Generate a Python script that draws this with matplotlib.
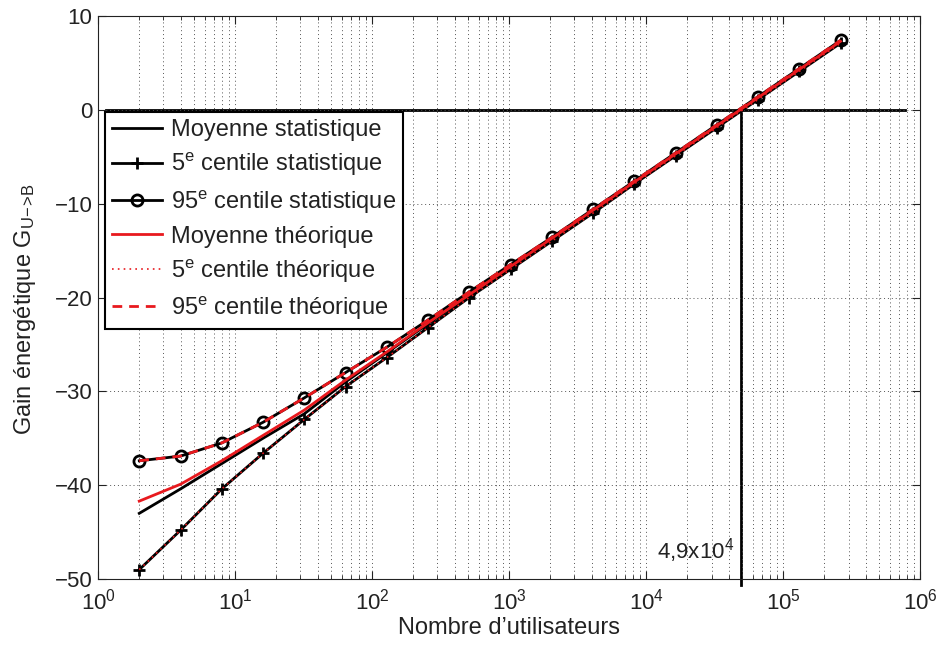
import matplotlib
matplotlib.use("Agg")
import matplotlib.pyplot as plt
import numpy as np

plt.rcParams['font.family'] = ['Liberation Sans', 'DejaVu Sans']
plt.rcParams['mathtext.fontset'] = 'custom'
plt.rcParams['mathtext.rm'] = 'Liberation Sans'
plt.rcParams['mathtext.it'] = 'Liberation Sans:italic'
plt.rcParams['mathtext.bf'] = 'Liberation Sans:bold'

# === Data ===
users = 2.0 ** np.arange(1, 19)
mean_stat = [-43.0, -40.4, -37.7, -35.0, -32.4, -29.0, -25.9, -22.8, -19.8,
             -16.8, -13.8, -10.8, -7.8, -4.8, -1.8, 1.2, 4.2, 7.2]
p5_stat = [-49.0, -44.8, -40.4, -36.6, -33.0, -29.5, -26.4, -23.2, -20.0,
           -17.0, -14.0, -11.0, -7.9, -4.9, -1.9, 1.1, 4.1, 7.1]
p95_stat = [-37.4, -36.9, -35.5, -33.3, -30.7, -28.0, -25.3, -22.4, -19.4,
            -16.5, -13.6, -10.6, -7.6, -4.6, -1.6, 1.4, 4.4, 7.4]
mean_theo = [-41.7, -39.9, -37.4, -34.7, -32.0, -28.8, -25.8, -22.7, -19.7,
             -16.7, -13.7, -10.7, -7.7, -4.7, -1.7, 1.3, 4.3, 7.3]
p5_theo = p5_stat
p95_theo = p95_stat

break_even = 4.9e4

fig = plt.figure(figsize=(9.38, 6.45), dpi=100)
ax = fig.add_axes([0.1045, 0.1023, 0.8765, 0.8729])

ax.plot(users, mean_stat, color='k', lw=2, label='Moyenne statistique')
ax.plot(users, p5_stat, color='k', lw=2, marker='+', ms=8, mew=2,
        label='5$^{\\mathrm{e}}$ centile statistique')
ax.plot(users, p95_stat, color='k', lw=2, marker='o', ms=8, mew=2, mfc='none',
        label='95$^{\\mathrm{e}}$ centile statistique')
ax.plot(users, mean_theo, color='#e8191e', lw=2, label='Moyenne théorique')
ax.plot(users, p5_theo, color='#e8191e', lw=1.2, ls=(0, (1, 2.5)),
        label='5$^{\\mathrm{e}}$ centile théorique')
ax.plot(users, p95_theo, color='#e8191e', lw=2, ls=(0, (3.5, 2.5)),
        label='95$^{\\mathrm{e}}$ centile théorique')

# Break-even lines
ax.plot([1.15, 7.7e5], [0, 0], color='k', lw=2, zorder=1)
ax.plot([break_even, break_even], [-50.6, 0], color='k', lw=2, zorder=1, clip_on=False)
ax.text(4.4e4, -47.0, '4,9x10$^{4}$', ha='right', va='center', fontsize=16, color='#222222')

ax.set_xscale('log')
ax.set_xlim(1, 1e6)
ax.set_ylim(-50, 10)
ax.set_yticks(np.arange(-50, 11, 10))
ax.set_xticks([1e0, 1e1, 1e2, 1e3, 1e4, 1e5, 1e6])

ax.grid(True, which='major', axis='both', ls=(0, (1, 3)), color='#555555', lw=0.7)
ax.grid(True, which='minor', axis='x', ls=(0, (1, 3)), color='#555555', lw=0.7)

ax.tick_params(which='both', direction='in', top=True, right=True, labelsize=16,
               colors='#222222')
ax.tick_params(axis='x', which='major', pad=7)
ax.tick_params(axis='y', which='major', pad=4)
ax.tick_params(which='major', length=6)
ax.tick_params(which='minor', length=3)
for s in ax.spines.values():
    s.set_linewidth(0.8)
    s.set_color('#222222')

ax.set_xlabel('Nombre d’utilisateurs', fontsize=17, labelpad=2, color='#222222')
ax.set_ylabel('Gain énergétique G$_{\\mathrm{U\\!-\\!\\!>\\!B}}$', fontsize=17,
              color='#222222')
ax.yaxis.set_label_coords(-0.073, 0.48)

leg = ax.legend(loc='upper left', bbox_to_anchor=(0.0085, 0.829), fontsize=17,
                frameon=True, fancybox=False, edgecolor='k', framealpha=1,
                borderpad=0.3, labelspacing=0.42, handlelength=2.1,
                handletextpad=0.4, borderaxespad=0)
leg.get_frame().set_linewidth(1.5)
for t in leg.get_texts():
    t.set_color('#222222')

fig.savefig('out.png', dpi=100)
